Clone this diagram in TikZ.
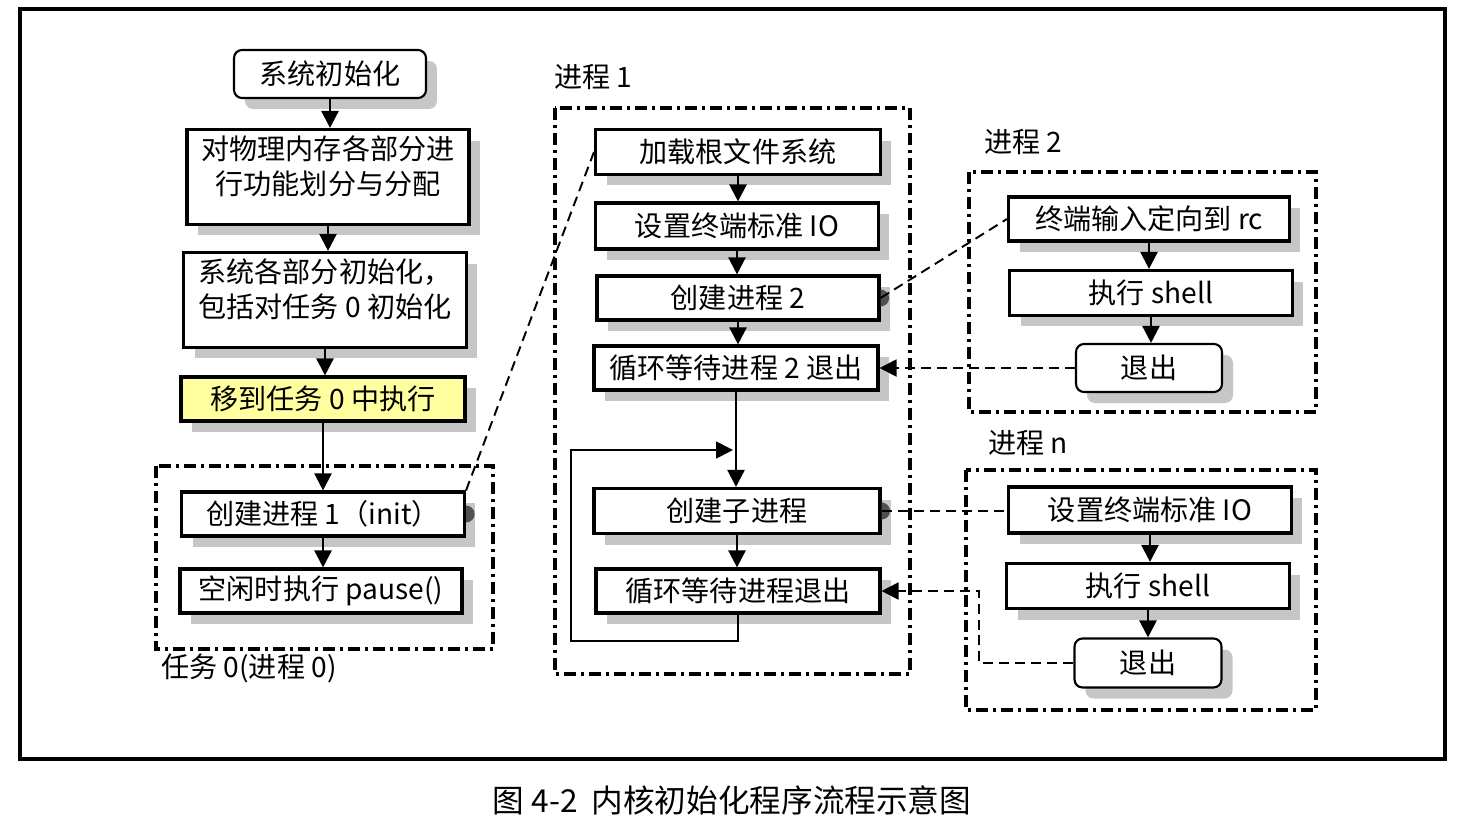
\documentclass[tikz,border=0pt]{standalone}
\usepackage{fontspec}
\setmainfont{Noto Sans CJK SC}
\usetikzlibrary{shadows}
\usetikzlibrary{arrows.meta}
\usetikzlibrary{calc}
\definecolor{hilite}{RGB}{255,255,160}
\definecolor{dotgray}{RGB}{80,80,80}

\begin{document}
\begin{tikzpicture}[x=0.02cm, y=-0.02cm,
    every node/.style={font=\fontsize{16}{20}\selectfont, inner sep=0pt, align=center},
    stepbox/.style={draw, line width=1.8pt, fill=white,
        drop shadow={shadow xshift=0.22cm, shadow yshift=-0.22cm, fill=gray!45, opacity=1}},
    roundbox/.style={stepbox, rounded corners=0.16cm, line width=1.2pt},
    groupbox/.style={line width=2pt, dash pattern=on 0.24cm off 0.1cm on 0.06cm off 0.1cm},
    flow/.style={line width=1.4pt, -{Triangle[length=0.34cm, width=0.34cm]}},
    link/.style={line width=1.1pt, dash pattern=on 0.2cm off 0.12cm},
    grouplabel/.style={anchor=west}]
    \useasboundingbox (0,0) rectangle (1463,815);
    \draw[line width=1.8pt] (20,9) rectangle (1445,759);

    % task 0
    \draw[groupbox] (156,466) rectangle (493,649);
    \node[roundbox, minimum width=3.84cm, minimum height=0.96cm] (sysboot) at (330,74) {系统初始化};
    \node[stepbox, minimum width=5.64cm, minimum height=1.9cm] (memmap) at (328,177) {对物理内存各部分进\\行功能划分与分配\\[-6pt]};
    \node[stepbox, minimum width=5.66cm, minimum height=1.9cm] (subinit) at (325,300) {系统各部分初始化，\\包括对任务 0 初始化\\[-6pt]};
    \node[stepbox, fill=hilite, minimum width=5.68cm, minimum height=0.88cm] (movetask) at (323,399) {移到任务 0 中执行};
    \node[stepbox, minimum width=5.66cm, minimum height=0.88cm] (forkinit) at (323,514) {创建进程 1（init）};
    \node[stepbox, minimum width=5.64cm, minimum height=0.88cm] (idle) at (321,591) {空闲时执行 pause()};
    \node[grouplabel] (lbltask) at (161,668) {任务 0(进程 0)};

    \draw[flow] (sysboot.south) -- (sysboot.south |- memmap.north);
    \draw[flow] (memmap.south) -- (memmap.south |- subinit.north);
    \draw[flow] (subinit.south) -- (subinit.south |- movetask.north);
    \draw[flow] (movetask.south) -- (movetask.south |- forkinit.north);
    \draw[flow] (forkinit.south) -- (forkinit.south |- idle.north);

    % process 1
    \node[grouplabel] (lblone) at (554,77) {进程 1};
    \draw[groupbox] (555,108) rectangle (910,674);
    \node[stepbox, minimum width=5.7cm, minimum height=0.9cm] (mountfs) at (738,152) {加载根文件系统};
    \node[stepbox, minimum width=5.66cm, minimum height=0.92cm] (stdio) at (737,226) {设置终端标准 IO};
    \node[stepbox, minimum width=5.64cm, minimum height=0.88cm] (forktwo) at (738,298) {创建进程 2};
    \node[stepbox, minimum width=5.68cm, minimum height=0.88cm] (waittwo) at (736,368) {循环等待进程 2 退出};
    \node[stepbox, minimum width=5.72cm, minimum height=0.9cm] (forkchild) at (737,511) {创建子进程};
    \node[stepbox, minimum width=5.68cm, minimum height=0.88cm] (waitchild) at (738,591) {循环等待进程退出};

    \draw[flow] (mountfs.south) -- (mountfs.south |- stdio.north);
    \draw[flow] (stdio.south) -- (stdio.south |- forktwo.north);
    \draw[flow] (forktwo.south) -- (forktwo.south |- waittwo.north);
    \draw[flow] (waittwo.south) -- (waittwo.south |- forkchild.north);
    \draw[flow] (forkchild.south) -- (forkchild.south |- waitchild.north);
    \coordinate (loopleft) at (571,641);
    \coordinate (loopin) at (733,450);
    \draw[flow, line width=1pt] (waitchild.south) |- (loopleft) |- (loopin);

    % process 2
    \node[grouplabel] (lbltwo) at (984,142) {进程 2};
    \draw[groupbox] (969,172) rectangle (1316,412);
    \node[stepbox, minimum width=5.62cm, minimum height=0.88cm] (redirect) at (1149,219) {终端输入定向到 rc};
    \node[stepbox, minimum width=5.66cm, minimum height=0.9cm] (shtwo) at (1151,293) {执行 shell};
    \node[roundbox, minimum width=2.92cm, minimum height=0.96cm] (exittwo) at (1149,368) {退出};
    \draw[flow] (redirect.south) -- (redirect.south |- shtwo.north);
    \draw[flow] (shtwo.south) -- (shtwo.south |- exittwo.north);

    % process n
    \node[grouplabel] (lbln) at (988,443) {进程 n};
    \draw[groupbox] (966,470) rectangle (1316,710);
    \node[stepbox, minimum width=5.66cm, minimum height=0.92cm] (stdion) at (1150,510) {设置终端标准 IO};
    \node[stepbox, minimum width=5.66cm, minimum height=0.9cm] (shn) at (1148,586) {执行 shell};
    \node[roundbox, minimum width=2.94cm, minimum height=0.98cm] (exitn) at (1148,663) {退出};
    \draw[flow] (stdion.south) -- (stdion.south |- shn.north);
    \draw[flow] (shn.south) -- (shn.south |- exitn.north);

    % fork dots
    \foreach \n in {forkinit, forktwo, forkchild}
        \fill[dotgray] ([yshift=0.17cm]\n.east) arc[start angle=90, end angle=-90, radius=0.17cm] -- cycle;

    % links between processes
    \draw[link] (forkinit.north east) -- (mountfs.west);
    \draw[link] (forktwo.east) -- (redirect.west);
    \draw[link, -{Triangle[length=0.34cm, width=0.34cm]}] (exittwo.west) -- (exittwo.west -| waittwo.east);
    \draw[link] (forkchild.east) -- (forkchild.east -| stdion.west);
    \coordinate (retn) at (979,0);
    \draw[link, -{Triangle[length=0.34cm, width=0.34cm]}] (exitn.west) -- (exitn.west -| retn) -- (waitchild.east -| retn) -- (waitchild.east);

    \node[font=\fontsize{18}{22}\selectfont] (caption) at (732,800) {图 4-2\ \ 内核初始化程序流程示意图};
\end{tikzpicture}
\end{document}
